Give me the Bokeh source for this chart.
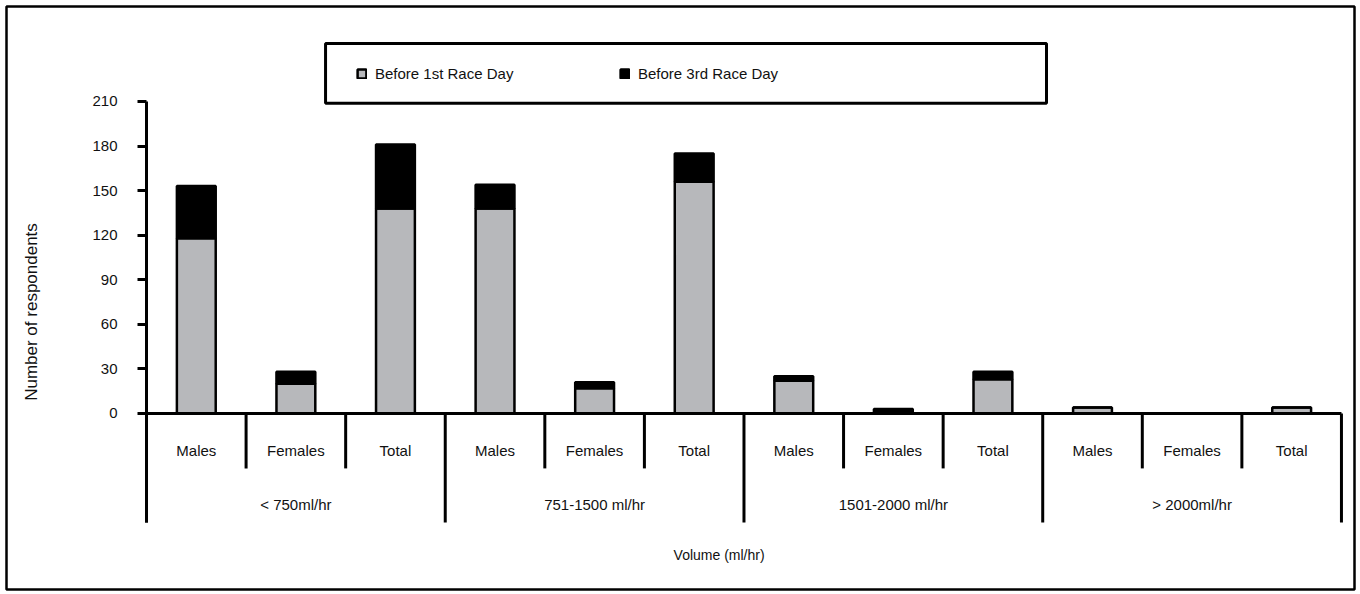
from bokeh.plotting import figure
from bokeh.models import Range1d, ColumnDataSource, Legend, LegendItem, FixedTicker, LinearAxis
from bokeh.core.properties import value
from bokeh.embed import file_html
from bokeh.resources import INLINE

# ---------------- data ----------------
groups = ["< 750ml/hr", "751-1500 ml/hr", "1501-2000 ml/hr", "> 2000ml/hr"]
subgroups = ["Males", "Females", "Total"]
before_1st = [118, 20, 138, 138, 17, 156, 22, 0, 23, 4, 0, 4]
before_3rd = [35, 8, 43, 16, 4, 19, 3, 3, 5, 0, 0, 0]
y_ticks = [0, 30, 60, 90, 120, 150, 180, 210]
series = ["Before 1st Race Day", "Before 3rd Race Day"]
x_title = "Volume (ml/hr)"
y_title = "Number of respondents"

# ---------------- style / layout ----------------
FONT = "Liberation Sans"
GRAY = "#b7b8bb"
X_MIN, X_MAX = -1.406, 12.131
Y_MIN, Y_MAX = -118.5, 273.9
SUB_SEP = 37.0      # depth of sub-category separators (data units below 0)
GRP_SEP = 73.4      # depth of group separators
SUB_LABEL_Y = -24.9
GRP_LABEL_Y = -61.3
TITLE_Y = -95.6

sub_labels = [s for g in groups for s in subgroups]
n = len(sub_labels)
nsub = len(subgroups)
pos = [i + 0.5 for i in range(n)]
grp_pos = [j * nsub + nsub / 2 for j in range(len(groups))]

source = ColumnDataSource(dict(x=pos, b1=before_1st, b3=before_3rd))

p = figure(width=1360, height=594, x_range=Range1d(X_MIN, X_MAX),
           y_range=Range1d(Y_MIN, Y_MAX),
           output_backend="svg", toolbar_location=None,
           x_axis_location=None, y_axis_location=None,
           min_border_left=6, min_border_right=6, min_border_top=6,
           min_border_bottom=5, background_fill_color="white",
           border_fill_color="white")
p.grid.visible = False
p.outline_line_color = "black"
p.outline_line_width = 2.5

# legend frame box
p.quad(left=[1.798], right=[9.038], top=[249.0], bottom=[208.7],
       fill_color="white", line_color="black", line_width=3)

# bars
renderers = p.vbar_stack(["b1", "b3"], x="x", width=0.39, source=source,
                         fill_color=[GRAY, "black"], line_color="black",
                         line_width=2.5)

# x axis line and separators
p.segment(x0=[0], y0=[0], x1=[n], y1=[0], line_color="black", line_width=3)
sub_b = [i for i in range(1, n) if i % nsub != 0]
grp_b = [i for i in range(0, n + 1) if i % nsub == 0]
p.segment(x0=sub_b, y0=[0] * len(sub_b), x1=sub_b, y1=[-SUB_SEP] * len(sub_b),
          line_color="black", line_width=3)
p.segment(x0=grp_b, y0=[0] * len(grp_b), x1=grp_b, y1=[-GRP_SEP] * len(grp_b),
          line_color="black", line_width=3)

# category labels
p.text(x=pos, y=[SUB_LABEL_Y] * n, text=sub_labels,
       text_align="center", text_baseline="middle", text_font=value(FONT),
       text_font_size="15px", text_color="#111111")
p.text(x=grp_pos, y=[GRP_LABEL_Y] * len(groups),
       text=groups, text_align="center", text_baseline="middle",
       text_font=value(FONT), text_font_size="15px", text_color="#111111")
p.text(x=[n / 2 - 0.25], y=[TITLE_Y], text=[x_title], text_align="center",
       text_baseline="middle", text_font=value(FONT), text_font_size="14px",
       text_color="#111111")

# y axis (fixed at the first category boundary)
ax = LinearAxis(fixed_location=0)
ax.ticker = FixedTicker(ticks=y_ticks, minor_ticks=[])
ax.bounds = (-GRP_SEP, max(y_ticks))
ax.axis_line_width = 3
ax.major_tick_line_width = 3
ax.major_tick_out = 9
ax.major_tick_in = 0
ax.minor_tick_line_color = None
ax.major_label_standoff = 20
ax.major_label_text_font = FONT
ax.major_label_text_font_size = "15px"
ax.major_label_text_color = "#111111"
ax.axis_label = y_title
ax.axis_label_text_font = FONT
ax.axis_label_text_font_style = "normal"
ax.axis_label_text_font_size = "17px"
ax.axis_label_text_color = "#111111"
ax.axis_label_standoff = 48
p.add_layout(ax, "left")

legend = Legend(items=[LegendItem(label=series[i], renderers=[renderers[i]]) for i in range(2)],
                orientation="horizontal", location=(340, 497),
                glyph_width=11, glyph_height=11, label_standoff=8, spacing=14,
                label_width=230, label_height=14, padding=10, margin=0,
                border_line_alpha=0, background_fill_alpha=0,
                label_text_font=FONT, label_text_font_size="15px",
                label_text_color="#111111")
p.add_layout(legend)

open("out.html", "w").write(file_html(p, INLINE))
